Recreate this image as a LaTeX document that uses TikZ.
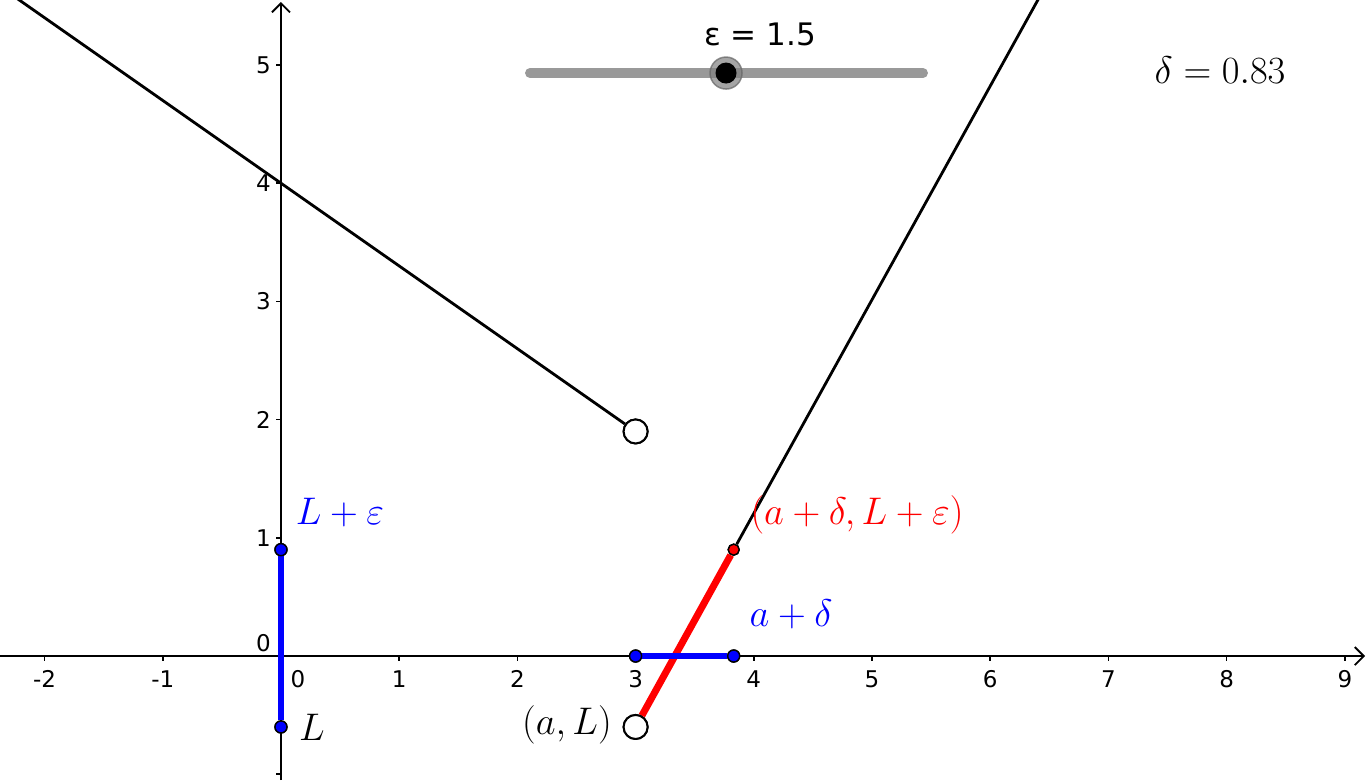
\RequirePackage{fix-cm}
\documentclass[tikz,border=0pt]{standalone}
\usepackage{fontspec}
\newfontfamily\dejavu{DejaVu Sans}
\usetikzlibrary{arrows.meta}
\definecolor{ggblue}{RGB}{0,0,255}
\definecolor{ggred}{RGB}{255,0,0}
\definecolor{slidergray}{RGB}{153,153,153}
\begin{document}
\begin{tikzpicture}[x=118.2pt,y=118.2pt,
  axisline/.style={line width=1.8pt,-{Straight Barb[length=9pt,width=18pt,line width=1.8pt]}},
  tickmark/.style={line width=1.6pt},
  ticklab/.style={font=\fontsize{23}{26}\selectfont\dejavu,inner sep=0pt},
  graphline/.style={line width=2.8pt},
  redseg/.style={line width=7pt,ggred},
  blueseg/.style={line width=5.5pt,ggblue},
  bluedot/.style={circle,draw=black,fill=ggblue,line width=1.4pt,minimum size=12pt,inner sep=0pt},
  reddot/.style={circle,draw=black,fill=ggred,line width=1.4pt,minimum size=11pt,inner sep=0pt},
  opendot/.style={circle,draw=black,fill=white,line width=2pt,minimum size=24pt,inner sep=0pt},
  mathlab/.style={font=\fontsize{38.5}{42}\selectfont,inner sep=0pt},
  sliderbar/.style={line width=10pt,slidergray,line cap=round}
]
\clip (-2.377,-1.049) rectangle (9.196,5.550);
\fill[white] (-2.377,-1.049) rectangle (9.196,5.550);

% slider
\coordinate (s1) at (2.107,4.932);
\coordinate (s2) at (5.431,4.932);
\draw[sliderbar] (s1) -- (s2);
\node[circle,draw=black!60,line width=1.5pt,fill=black!50,opacity=0.7,minimum size=32pt,inner sep=0pt] (halo) at (3.765,4.932) {};
\node[circle,fill=black,minimum size=21pt,inner sep=0pt] (knob) at (3.765,4.932) {};
\node[font=\fontsize{31}{34}\selectfont\dejavu,inner sep=0pt] (epslab) at (4.052,5.262) {ε = 1.5};

% delta label
\node[mathlab] (deltalab) at (7.944,4.958) {$\delta = 0.83$};

% axes
\coordinate (xa0) at (-2.377,0);
\coordinate (xa1) at (9.171,0);
\coordinate (ya0) at (0,-1.049);
\coordinate (ya1) at (0,5.533);
\draw[axisline] (xa0) -- (xa1);
\draw[axisline] (ya0) -- (ya1);

% ticks
\foreach \i in {-2,-1,1,2,...,9} {
  \draw[tickmark] (\i,0) -- (\i,-0.042);
  \node[ticklab] (xl\i) at (\i,-0.195) {\i};
}
\node[ticklab] (xl0) at (0.144,-0.195) {0};
\foreach \j in {-1,1,2,...,5} {
  \draw[tickmark] (0,\j) -- (-0.042,\j);
}
\foreach \j in {1,2,...,5} {
  \node[ticklab,anchor=east] (yl\j) at (-0.085,\j) {\j};
}
\node[ticklab,anchor=east] (yl0) at (-0.085,0.11) {0};

% points
\node[opendot] (O1) at (3,1.9) {};
\node[opendot] (O2) at (3,-0.6) {};
\node[bluedot] (B1) at (0,0.9) {};
\node[bluedot] (B2) at (0,-0.6) {};
\node[bluedot] (B3) at (3,0) {};
\node[bluedot] (B4) at (3.83,0) {};
\node[reddot] (R) at (3.83,0.9) {};
\coordinate (P) at (-2.6,5.82);
\coordinate (Q) at (6.6,5.906);

% graph lines
\draw[graphline] (P) -- (O1);
\draw[graphline] (R) -- (Q);
\draw[redseg] (O2) -- (R);
\draw[blueseg] (B2) -- (B1);
\draw[blueseg] (B3) -- (B4);

% redraw points on top
\node[opendot] at (O1) {};
\node[opendot] at (O2) {};
\node[bluedot] at (B1) {};
\node[bluedot] at (B2) {};
\node[bluedot] at (B3) {};
\node[bluedot] at (B4) {};
\node[reddot] at (R) {};

% labels
\node[mathlab,text=ggblue] (lLe) at (0.499,1.218) {$L+\varepsilon$};
\node[mathlab] (lL) at (0.262,-0.601) {$L$};
\node[mathlab,text=ggred] (lR) at (4.873,1.193) {$(a+\delta, L+\varepsilon)$};
\node[mathlab,text=ggblue] (lad) at (4.315,0.355) {$a+\delta$};
\node[mathlab] (laL) at (2.420,-0.584) {$(a, L)$};
\end{tikzpicture}
\end{document}
